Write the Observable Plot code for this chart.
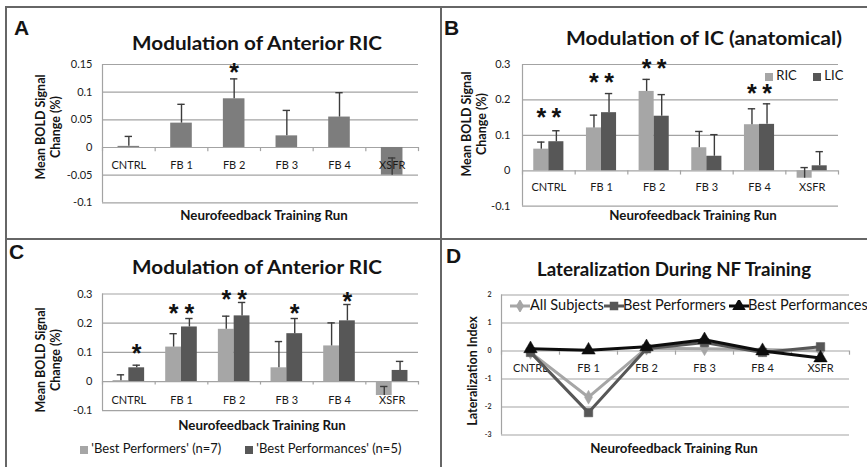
<!DOCTYPE html>
<html><head><meta charset="utf-8">
<script src="https://cdn.jsdelivr.net/npm/d3@7"></script>
<script src="https://cdn.jsdelivr.net/npm/@observablehq/plot@0.6"></script>
<style>
html,body{margin:0;padding:0;background:#fff;}
#fig{position:relative;width:867px;height:467px;overflow:hidden;background:#fff;font-family:Lato,"Open Sans",sans-serif;color:#141414;}
.abs{position:absolute;white-space:nowrap;}
.c{transform:translate(-50%,-50%);}
.title{font-weight:700;font-size:19.5px;}
.letter{font-family:"Liberation Sans",Arial,sans-serif;font-weight:700;font-size:21px;line-height:1;}
.xt{font-weight:700;font-size:13.3px;}
.yt{font-weight:700;font-size:12.5px;line-height:15px;text-align:center;transform:translate(-50%,-50%) rotate(-90deg);}
.leg{font-size:13px;line-height:1;}
.legd{font-size:14.5px;line-height:1;}
.sq{display:inline-block;width:8px;height:8px;vertical-align:middle;}
.hl{position:absolute;background:#666;}
svg.p{position:absolute;}
</style></head><body><div id="fig"></div>
<script>
// ---------- data ----------
const categories = ["CNTRL", "FB 1", "FB 2", "FB 3", "FB 4", "XSFR"];

// Panel A: Modulation of Anterior RIC
const aValues = [0.002, 0.044, 0.088, 0.021, 0.055, -0.050];
const aErrors = [0.018, 0.034, 0.036, 0.046, 0.044, 0.031];
const aStars  = [null, null, 0.143, null, null, null];
const aTicks  = [-0.1, -0.05, 0, 0.05, 0.1, 0.15];

// Panel B: Modulation of IC (anatomical)
const bRIC      = [0.061, 0.121, 0.224, 0.065, 0.130, -0.021];
const bRICerr   = [0.020, 0.036, 0.034, 0.046, 0.045, 0.030];
const bLIC      = [0.082, 0.164, 0.154, 0.041, 0.131, 0.014];
const bLICerr   = [0.031, 0.054, 0.061, 0.061, 0.058, 0.040];
const bStarsRIC = [0.164, 0.263, 0.301, null, 0.230, null];
const bStarsLIC = [0.164, 0.263, 0.301, null, 0.230, null];
const bTicks    = [-0.1, 0, 0.1, 0.2, 0.3];

// Panel C: Modulation of Anterior RIC (best performers / performances)
const cPerformers       = [0.003, 0.118, 0.179, 0.047, 0.122, -0.048];
const cPerformersErr    = [0.020, 0.046, 0.045, 0.090, 0.079, 0.031];
const cPerformances     = [0.047, 0.187, 0.225, 0.164, 0.208, 0.038];
const cPerformancesErr  = [0.009, 0.029, 0.046, 0.052, 0.056, 0.031];
const cStarsPerformers  = [null, 0.249, 0.298, null, null, null];
const cStarsPerformances= [0.112, 0.249, 0.298, 0.249, 0.289, null];
const cTicks            = [-0.1, 0, 0.1, 0.2, 0.3];

// Panel D: Lateralization During NF Training
const dAll          = [-0.05, -1.65, 0.10, 0.08, 0.05, 0.00];
const dPerformers   = [-0.05, -2.20, 0.08, 0.30, -0.05, 0.15];
const dPerformances = [0.08, 0.03, 0.15, 0.40, 0.00, -0.25];
const dTicks        = [-3, -2, -1, 0, 1, 2];

// ---------- helpers ----------
const GRID = "#a3a3a3", ERR = "#3c3c3c";
const LIGHT = "#a6a6a6", DARK = "#575757", MID = "#7d7d7d";
const fig = d3.select("#fig");

function place(svg, left, top) {
  svg.setAttribute("class", "p");
  svg.style.left = left + "px";
  svg.style.top = top + "px";
  fig.node().appendChild(svg);
}
function text(cls, x, y, html) {
  return fig.append("div").attr("class", "abs " + cls).style("left", x + "px").style("top", y + "px").html(html);
}

function barPanel(cfg) {
  const marks = [];
  const [y0, y1] = cfg.yDomain;
  const tickLen = (y1 - y0) * 0.03;
  marks.push(Plot.ruleY(cfg.yTicks, {stroke: GRID, strokeWidth: 1.2}));
  marks.push(Plot.ruleX([-0.5], {stroke: GRID, strokeWidth: 1.2}));
  marks.push(Plot.ruleX(d3.range(-0.5, 6, 1), {y1: 0, y2: -tickLen, stroke: GRID, strokeWidth: 1.2}));
  const rowsOf = s => categories.map((c, i) => ({i, v: s.values[i], e: s.errors[i], cx: i + s.offset, star: s.stars[i]}));
  for (const s of cfg.series) {
    marks.push(Plot.rectY(rowsOf(s), {x1: d => d.cx - s.half, x2: d => d.cx + s.half, y1: 0, y2: "v", fill: s.color}));
  }
  marks.push(Plot.text(categories, {x: (d, i) => i, y: 0, dy: cfg.labelDy, text: d => d, fontSize: 11, fill: "#1a1a1a"}));
  for (const s of cfg.series) {
    const rows = rowsOf(s);
    marks.push(Plot.ruleX(rows, {x: "cx", y1: "v", y2: d => d.v + d.e, stroke: ERR, strokeWidth: 1.4}));
    marks.push(Plot.ruleY(rows, {y: d => d.v + d.e, x1: d => d.cx - 0.07, x2: d => d.cx + 0.07, stroke: ERR, strokeWidth: 1.4}));
    marks.push(Plot.text(rows.filter(d => d.star != null), {x: "cx", y: "star", text: () => "*", fontSize: 25, fontWeight: 700, dy: 5, fill: "#111", fontFamily: "Liberation Sans"}));
  }
  marks.push(Plot.axisY(cfg.yTicks, {tickSize: 0, tickPadding: cfg.tickPad, tickFormat: d => String(d), fontSize: 11, fill: "#1a1a1a", label: null}));
  return Plot.plot({
    width: cfg.w, height: cfg.h,
    marginLeft: cfg.mL, marginRight: cfg.mR, marginTop: cfg.mT, marginBottom: cfg.mB,
    x: {type: "linear", domain: [-0.5, 5.5], axis: null, label: null},
    y: {domain: cfg.yDomain, axis: null, label: null},
    style: {fontFamily: "Lato, sans-serif", background: "transparent", overflow: "visible"},
    marks
  });
}

// ---------- Panel A ----------
place(barPanel({
  w: 441, h: 239, mL: 102, mR: 23, mT: 64, mB: 36.7, tickPad: 10, labelDy: 18,
  yDomain: [-0.1, 0.15], yTicks: aTicks,
  series: [{values: aValues, errors: aErrors, stars: aStars, color: MID, offset: 0, half: 0.205}]
}), 0, 0);

// ---------- Panel B ----------
place(barPanel({
  w: 426, h: 239, mL: 81, mR: 29, mT: 64, mB: 33.3, tickPad: 12, labelDy: 17,
  yDomain: [-0.1, 0.3], yTicks: bTicks,
  series: [
    {values: bRIC, errors: bRICerr, stars: bStarsRIC, color: LIGHT, offset: -0.143, half: 0.143},
    {values: bLIC, errors: bLICerr, stars: bStarsLIC, color: DARK, offset: 0.143, half: 0.143}
  ]
}), 441, 0);

// ---------- Panel C ----------
place(barPanel({
  w: 441, h: 228, mL: 102, mR: 23, mT: 54.5, mB: 56.8, tickPad: 10, labelDy: 19,
  yDomain: [-0.1, 0.3], yTicks: cTicks,
  series: [
    {values: cPerformers, errors: cPerformersErr, stars: cStarsPerformers, color: LIGHT, offset: -0.15, half: 0.15},
    {values: cPerformances, errors: cPerformancesErr, stars: cStarsPerformances, color: DARK, offset: 0.15, half: 0.15}
  ]
}), 0, 239);

// ---------- Panel D ----------
const dSeries = [
  {name: "All Subjects", values: dAll, color: LIGHT, symbol: "diamond", r: 4.2},
  {name: "Best Performers", values: dPerformers, color: DARK, symbol: "square", r: 4.8},
  {name: "Best Performances", values: dPerformances, color: "#0d0d0d", symbol: "triangle", r: 5}
];
const dMarks = [
  Plot.ruleY(dTicks, {stroke: GRID, strokeWidth: 1.2}),
  Plot.ruleX([-0.5], {stroke: GRID, strokeWidth: 1.2}),
  Plot.ruleX(d3.range(-0.5, 6, 1), {y1: 0, y2: -0.15, stroke: GRID, strokeWidth: 1.2}),
  Plot.text(categories, {x: (d, i) => i, y: 0, dy: 17, text: d => d, fontSize: 11, fill: "#1a1a1a"})
];
for (const s of dSeries) {
  const rows = s.values.map((v, i) => ({i, v}));
  dMarks.push(Plot.line(rows, {x: "i", y: "v", stroke: s.color, strokeWidth: 3}));
  dMarks.push(Plot.dot(rows, {x: "i", y: "v", symbol: s.symbol, r: s.r, fill: s.color, stroke: s.color, strokeWidth: 0.5}));
}
dMarks.push(Plot.axisY(dTicks, {tickSize: 0, tickPadding: 10, tickFormat: d => String(d), fontSize: 7, fontWeight: 700, fill: "#333", label: null}));
place(Plot.plot({
  width: 426, height: 228, marginLeft: 60, marginRight: 18, marginTop: 55.5, marginBottom: 32.5,
  x: {type: "linear", domain: [-0.5, 5.5], axis: null, label: null},
  y: {domain: [-3, 2], axis: null, label: null},
  style: {fontFamily: "Lato, sans-serif", background: "transparent", overflow: "visible"},
  marks: dMarks
}), 441, 239);

// ---------- frame lines ----------
[[6, 6, 861, 2], [6, 238, 861, 2], [5, 6, 2, 461], [440, 6, 2, 461]].forEach(([l, t, w, h]) =>
  fig.append("div").attr("class", "hl").style("left", l + "px").style("top", t + "px").style("width", w + "px").style("height", h + "px"));

// ---------- texts ----------
text("letter", 14, 17, "A");
text("letter", 444, 17, "B");
text("letter", 9, 241, "C");
text("letter", 446, 245, "D");

// titles, fitted to the widths seen in the reference
[[257, 42, 250, "Modulation of Anterior RIC"],
 [704, 37, 276, "Modulation of IC (anatomical)"],
 [257, 266, 250, "Modulation of Anterior RIC"],
 [674, 268, 274, "Lateralization During NF Training"]].forEach(([x, y, w, t]) => {
  const el = text("title", x, y, t);
  const actual = el.node().getBoundingClientRect().width;
  el.style("transform", `translate(-50%,-50%) scaleX(${(w / actual).toFixed(3)})`);
});

text("xt c", 264, 215, "Neurofeedback Training Run");
text("xt c", 693, 215, "Neurofeedback Training Run");
text("xt c", 262, 425, "Neurofeedback Training Run");
text("xt c", 674, 448, "Neurofeedback Training Run");

text("yt", 47.5, 127, "Mean BOLD Signal<br>Change (%)");
text("yt", 473.5, 124, "Mean BOLD Signal<br>Change (%)");
text("yt", 47.5, 360, "Mean BOLD Signal<br>Change (%)");
text("yt", 472, 371, "Lateralization Index");

// Panel B legend
text("leg", 765, 69, `<span class="sq" style="background:${LIGHT}"></span> RIC`);
text("leg", 813, 69, `<span class="sq" style="background:${DARK}"></span> LIC`);

// Panel C legend
text("leg", 80, 442, `<span class="sq" style="background:${LIGHT}"></span> 'Best Performers' (n=7)`);
text("leg", 245, 442, `<span class="sq" style="background:${DARK}"></span> 'Best Performances' (n=5)`);

// Panel D legend (inside plot)
const legX = [[510, 530], [604, 623], [729, 748]];
dSeries.forEach((s, k) => {
  const [lx, tx] = legX[k];
  const sv = fig.append("svg").attr("width", 20).attr("height", 12).style("position", "absolute")
    .style("left", lx + "px").style("top", "300px");
  sv.append("line").attr("x1", 0).attr("x2", 20).attr("y1", 6).attr("y2", 6).attr("stroke", s.color).attr("stroke-width", 3);
  const sym = {diamond: d3.symbolDiamond, square: d3.symbolSquare, triangle: d3.symbolTriangle}[s.symbol];
  sv.append("path").attr("d", d3.symbol(sym, Math.PI * s.r * s.r)()).attr("transform", "translate(10,6)").attr("fill", s.color);
  text("legd", tx, 298, s.name);
});
</script>
</body></html>
